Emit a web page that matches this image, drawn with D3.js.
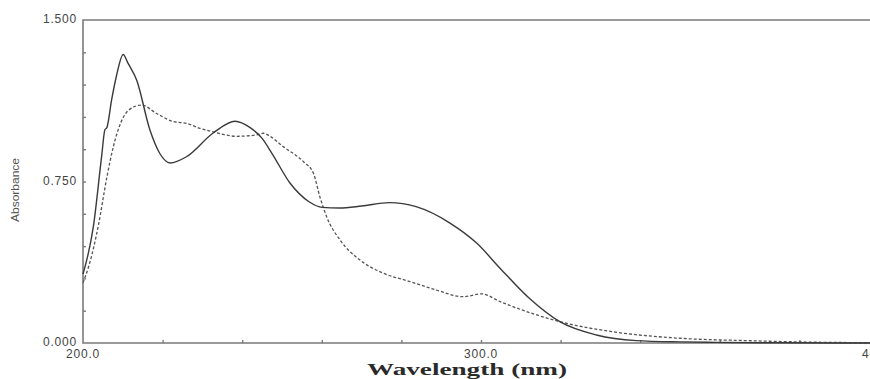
<!DOCTYPE html>
<html>
<head>
<meta charset="utf-8">
<script src="https://cdn.jsdelivr.net/npm/d3@7"></script>
<style>
  body { margin: 0; background: #fff; }
  svg { display: block; }
</style>
</head>
<body>
<div id="chart"></div>
<script>
// spectrum A (solid) : wavelength nm / absorbance
var solidNm = [200, 202.6, 204.7, 205.5, 206, 207.2, 208.4, 210.1, 211.3, 213.5, 216.8, 219.3, 221.9, 226, 232.7, 238.2, 242, 245, 247.5, 252, 256.8, 260.1, 264.4, 270, 277, 283.7, 292.2, 298.9, 304.9, 312, 319.8, 329, 339, 350, 359, 375, 400];
var solidAbs = [0.32, 0.54, 0.87, 0.99, 1.0, 1.13, 1.24, 1.34, 1.30, 1.22, 0.99, 0.88, 0.836, 0.865, 0.975, 1.03, 1.0, 0.95, 0.88, 0.743, 0.656, 0.63, 0.627, 0.636, 0.652, 0.633, 0.557, 0.464, 0.345, 0.21, 0.099, 0.037, 0.011, 0.005, 0.003, 0.001, 0.0];

// spectrum B (dashed)
var dashNm = [200, 201.5, 203.8, 206, 207.6, 211.4, 214.7, 218.5, 222.7, 226, 229.4, 232.7, 238.6, 243.6, 245.3, 247, 250.3, 255.4, 257.9, 259.5, 261.2, 264.6, 269.6, 275.5, 282.2, 288.8, 295.5, 300.2, 304.8, 308, 319.8, 333.2, 350, 366.8, 380, 400];
var dashAbs = [0.28, 0.36, 0.54, 0.77, 0.91, 1.08, 1.105, 1.066, 1.028, 1.02, 0.997, 0.98, 0.96, 0.966, 0.974, 0.96, 0.912, 0.842, 0.788, 0.68, 0.587, 0.478, 0.385, 0.324, 0.285, 0.246, 0.215, 0.228, 0.192, 0.169, 0.099, 0.052, 0.022, 0.011, 0.005, 0.001];

var xLabels = [200, 300, 400];
var yLabels = [0, 0.75, 1.5];

var svgWidth = 870;
var svgHeight = 379;

var svg = d3.select("#chart")
  .append("svg")
  .attr("width", svgWidth)
  .attr("height", svgHeight);

var x = d3.scaleLinear().domain([200, 400]).range([83, 879]);
var y = d3.scaleLinear().domain([0, 1.5]).range([343, 20]);

var axisColor = "#7a7a7a";

// frame
svg.append("path")
  .attr("d", `M${svgWidth},${y(1.5)}H${x(200)}V${y(0)}H${svgWidth}`)
  .attr("fill", "none")
  .attr("stroke", axisColor)
  .attr("stroke-width", 1.6);

// small inward ticks
svg.append("g")
  .attr("transform", `translate(0, ${y(0)})`)
  .call(d3.axisTop(x).tickValues(d3.range(220, 400, 20)).tickSize(3).tickFormat(""))
  .call(g => g.select(".domain").remove())
  .selectAll("line").attr("stroke", axisColor).attr("stroke-width", 1.4);

svg.append("g")
  .attr("transform", `translate(${x(200)}, 0)`)
  .call(d3.axisRight(y).tickValues(d3.range(1, 10).map(i => i * 0.15)).tickSize(3).tickFormat(""))
  .call(g => g.select(".domain").remove())
  .selectAll("line").attr("stroke", axisColor).attr("stroke-width", 1.4);

// tick labels
svg.append("g")
  .selectAll("text")
  .data(yLabels)
  .enter()
  .append("text")
  .attr("x", 77)
  .attr("y", d => y(d) - 1)
  .attr("dy", "0.35em")
  .attr("text-anchor", "end")
  .style("font-family", "Liberation Sans, Arial, sans-serif")
  .style("font-size", "12px")
  .style("letter-spacing", "0.8px")
  .style("fill", "#444")
  .text(d => d3.format(".3f")(d));

svg.append("g")
  .selectAll("text")
  .data(xLabels)
  .enter()
  .append("text")
  .attr("x", d => x(d))
  .attr("y", 358)
  .attr("text-anchor", "middle")
  .style("font-family", "Liberation Sans, Arial, sans-serif")
  .style("font-size", "12px")
  .style("letter-spacing", "0.8px")
  .style("fill", "#444")
  .text(d => d3.format(".1f")(d));

// axis titles
svg.append("text")
  .attr("x", 467)
  .attr("y", 375)
  .attr("text-anchor", "middle")
  .attr("textLength", 200)
  .attr("lengthAdjust", "spacingAndGlyphs")
  .style("font-family", "Liberation Serif, Times New Roman, serif")
  .style("font-weight", "bold")
  .style("font-size", "16px")
  .style("fill", "#2a2a2a")
  .text("Wavelength (nm)");

svg.append("text")
  .attr("transform", "translate(19, 190) rotate(-90)")
  .attr("text-anchor", "middle")
  .attr("textLength", 64)
  .attr("lengthAdjust", "spacingAndGlyphs")
  .style("font-family", "Liberation Sans, Arial, sans-serif")
  .style("font-size", "11px")
  .style("fill", "#555")
  .text("Absorbance");

// spectra
var line = d3.line()
  .x(d => x(d[0]))
  .y(d => y(d[1]))
  .curve(d3.curveMonotoneX);

svg.append("path")
  .datum(dashNm.map((n, i) => [n, dashAbs[i]]))
  .attr("d", line)
  .attr("fill", "none")
  .attr("stroke", "#555")
  .attr("stroke-width", 1.3)
  .attr("stroke-dasharray", "3,2");

svg.append("path")
  .datum(solidNm.map((n, i) => [n, solidAbs[i]]))
  .attr("d", line)
  .attr("fill", "none")
  .attr("stroke", "#3a3a3a")
  .attr("stroke-width", 1.4);
</script>
</body>
</html>
